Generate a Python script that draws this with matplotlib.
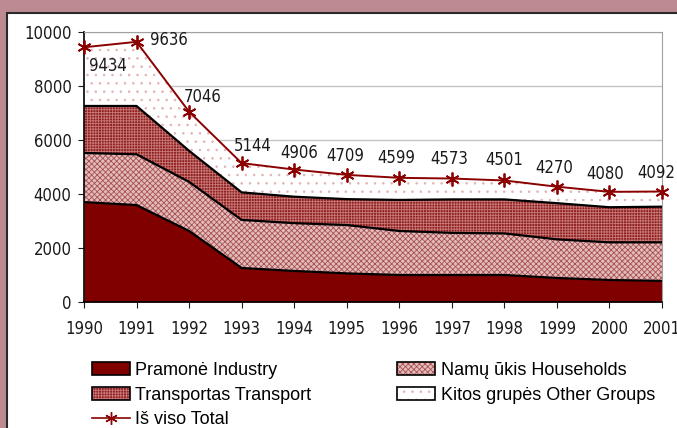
import numpy as np
import matplotlib.pyplot as plt
from matplotlib.patches import Rectangle, Patch
from matplotlib.lines import Line2D
from matplotlib.legend_handler import HandlerTuple

years = [1990, 1991, 1992, 1993, 1994, 1995, 1996, 1997, 1998, 1999, 2000, 2001]
industry = [3700, 3590, 2630, 1260, 1150, 1060, 1000, 1000, 1000, 890, 815, 780]
households = [1820, 1880, 1820, 1780, 1770, 1790, 1630, 1560, 1540, 1430, 1395, 1430]
transport = [1740, 1790, 1150, 1020, 980, 960, 1150, 1240, 1260, 1340, 1300, 1320]
total = [9434, 9636, 7046, 5144, 4906, 4709, 4599, 4573, 4501, 4270, 4080, 4092]

plt.rcParams['font.family'] = ['DejaVu Sans']
plt.rcParams['font.stretch'] = 'condensed'
plt.rcParams['hatch.linewidth'] = 0.6

fig = plt.figure(figsize=(6.77, 4.28), dpi=100)
fig.patch.set_facecolor('#be8a92')
fig.patches.append(Rectangle((7 / 677, -0.1), 1.0, 1.1 - 13 / 428,
                             transform=fig.transFigure, facecolor='white',
                             edgecolor='#2a2a2a', lw=1.5, zorder=-10))

ax = fig.add_axes([84 / 677, 1 - 302 / 428, (662 - 84) / 677, 270 / 428])
ax.set_facecolor('none')

x = np.arange(len(years))
y1 = np.array(industry)
y2 = y1 + np.array(households)
y3 = y2 + np.array(transport)
y4 = np.array(total)

# fill styles: (facecolor, hatch colour, hatch)
st_house = ('#e2bcbc', '#a85050', 'xxxxxx')
st_trans = ('#8e2020', '#c87878', '++++++')
st_other = ('white', '#e2b4b4', '..')

ax.fill_between(x, 0, y1, facecolor='#800000', edgecolor='#800000', lw=0)
for lo, hi, (fc, hc, h) in ((y1, y2, st_house), (y2, y3, st_trans), (y3, y4, st_other)):
    ax.fill_between(x, lo, hi, facecolor=fc, edgecolor=hc, hatch=h, lw=0)
for yy in (y1, y2, y3):
    ax.plot(x, yy, color='black', lw=1.6, zorder=3)

ax.plot(x, y4, color='#8b0000', lw=1.4, marker=(6, 2, 0), markersize=10,
        markeredgewidth=1.3, zorder=4, clip_on=False)

offsets = [(24, -19), (32, 2), (14, 15), (11, 17), (5, 17), (-1, 19),
           (-3, 20), (-3, 20), (0, 20), (-3, 19), (-4, 18), (-6, 19)]
for i, v in enumerate(total):
    dx, dy = offsets[i]
    ax.annotate(str(v), (x[i], v), xytext=(dx, dy), textcoords='offset pixels',
                ha='center', va='center', fontsize=12, color='#1a1a1a')

ax.set_xlim(0, len(years) - 1)
ax.set_ylim(0, 10000)
ax.set_yticks(range(0, 10001, 2000))
ax.set_xticks(x)
ax.set_xticklabels(years)
ax.tick_params(labelsize=12, colors='#1a1a1a', direction='out', length=4, pad=5)
ax.tick_params(axis='x', pad=9)
ax.grid(axis='y', color='#c4c4c4', lw=1)
ax.set_axisbelow(True)
for s in ('top', 'right'):
    ax.spines[s].set_color('#a0a0a0')
for s in ('left', 'bottom'):
    ax.spines[s].set_color('black')
    ax.spines[s].set_linewidth(1.2)


def hatch_handle(style):
    fc, hc, h = style
    return (Patch(facecolor=fc, edgecolor=hc, hatch=h, lw=0),
            Patch(facecolor='none', edgecolor='black', lw=1.2))


handles = [
    Patch(facecolor='#800000', edgecolor='black', lw=1.2),
    hatch_handle(st_trans),
    Line2D([], [], color='#8b0000', lw=1.2, marker=(6, 2, 0), markersize=9),
    hatch_handle(st_house),
    hatch_handle(st_other),
]
labels = ['Pramonė Industry', 'Transportas Transport', 'Iš viso Total',
          'Namų ūkis Households', 'Kitos grupės Other Groups']
fig.legend(handles, labels, ncol=2, loc='upper left', bbox_to_anchor=(92 / 677, 1 - 362 / 428),
           frameon=False, borderpad=0, borderaxespad=0, handlelength=2.1, handleheight=0.7,
           handletextpad=0.3, labelspacing=0.42, columnspacing=4.75,
           handler_map={tuple: HandlerTuple(ndivide=1, pad=0)},
           prop={'family': ['Liberation Sans', 'DejaVu Sans'], 'stretch': 'normal', 'size': 13})

fig.savefig('out.png', dpi=100, facecolor=fig.get_facecolor())
